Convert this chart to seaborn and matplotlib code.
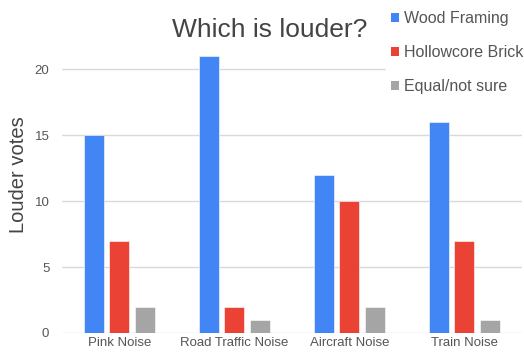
import matplotlib
matplotlib.use("Agg")
import matplotlib.pyplot as plt
from matplotlib.patches import Patch
import seaborn as sns
import pandas as pd

categories = ["Pink Noise", "Road Traffic Noise", "Aircraft Noise", "Train Noise"]
series_names = ["Wood Framing", "Hollowcore Brick", "Equal/not sure"]
wood_framing = [15, 21, 12, 16]
hollowcore_brick = [7, 2, 10, 7]
equal_not_sure = [2, 1, 2, 1]
colors = ["#4285F4", "#EA4335", "#A5A5A5"]

rows = []
for name, vals in zip(series_names, [wood_framing, hollowcore_brick, equal_not_sure]):
    for cat, v in zip(categories, vals):
        rows.append({"category": cat, "series": name, "votes": v})
df = pd.DataFrame(rows)

sns.set_theme(style="white")
plt.rcParams["font.family"] = ["Liberation Sans", "DejaVu Sans"]

fig = plt.figure(figsize=(5.24, 3.53), dpi=100)
ax = fig.add_axes([0.118, 0.0567, 0.878, 0.897])

sns.barplot(data=df, x="category", y="votes", hue="series", order=categories,
            hue_order=series_names, palette=colors, width=0.67, gap=0.22,
            edgecolor="white", linewidth=0.4, saturation=1, ax=ax, legend=False)

ax.set_xlim(-0.5, 3.5)
ax.set_ylim(0, 24)
ax.set_yticks([0, 5, 10, 15, 20])
ax.yaxis.grid(True, color="#D9D9D9", linewidth=1)
ax.set_axisbelow(True)
for s in ax.spines.values():
    s.set_visible(False)
ax.tick_params(axis="both", length=0, labelsize=9.5, labelcolor="#555555")
ax.tick_params(axis="x", pad=3)
ax.tick_params(axis="y", pad=9)
ax.set_xlabel("")
ax.set_ylabel("Louder votes", fontsize=14.5, color="#444444")
ax.yaxis.set_label_coords(-0.074, 0.5)

fig.text(270 / 524, 1 - 30 / 353, "Which is louder?", ha="center", va="center",
         fontsize=19, color="#444444")

handles = [Patch(facecolor=c, edgecolor="none") for c in colors]
leg = fig.legend(handles, series_names, loc="upper left",
                 bbox_to_anchor=(386 / 524, 1 - 6 / 353), frameon=True,
                 fontsize=11.5, handlelength=0.5, handleheight=0.5,
                 handletextpad=0.3, labelspacing=1.2, borderpad=0.3,
                 borderaxespad=0)
leg.get_frame().set_facecolor("white")
leg.get_frame().set_edgecolor("white")
leg.get_frame().set_alpha(1)
for t in leg.get_texts():
    t.set_color("#555555")

fig.savefig("out.png", dpi=100)
